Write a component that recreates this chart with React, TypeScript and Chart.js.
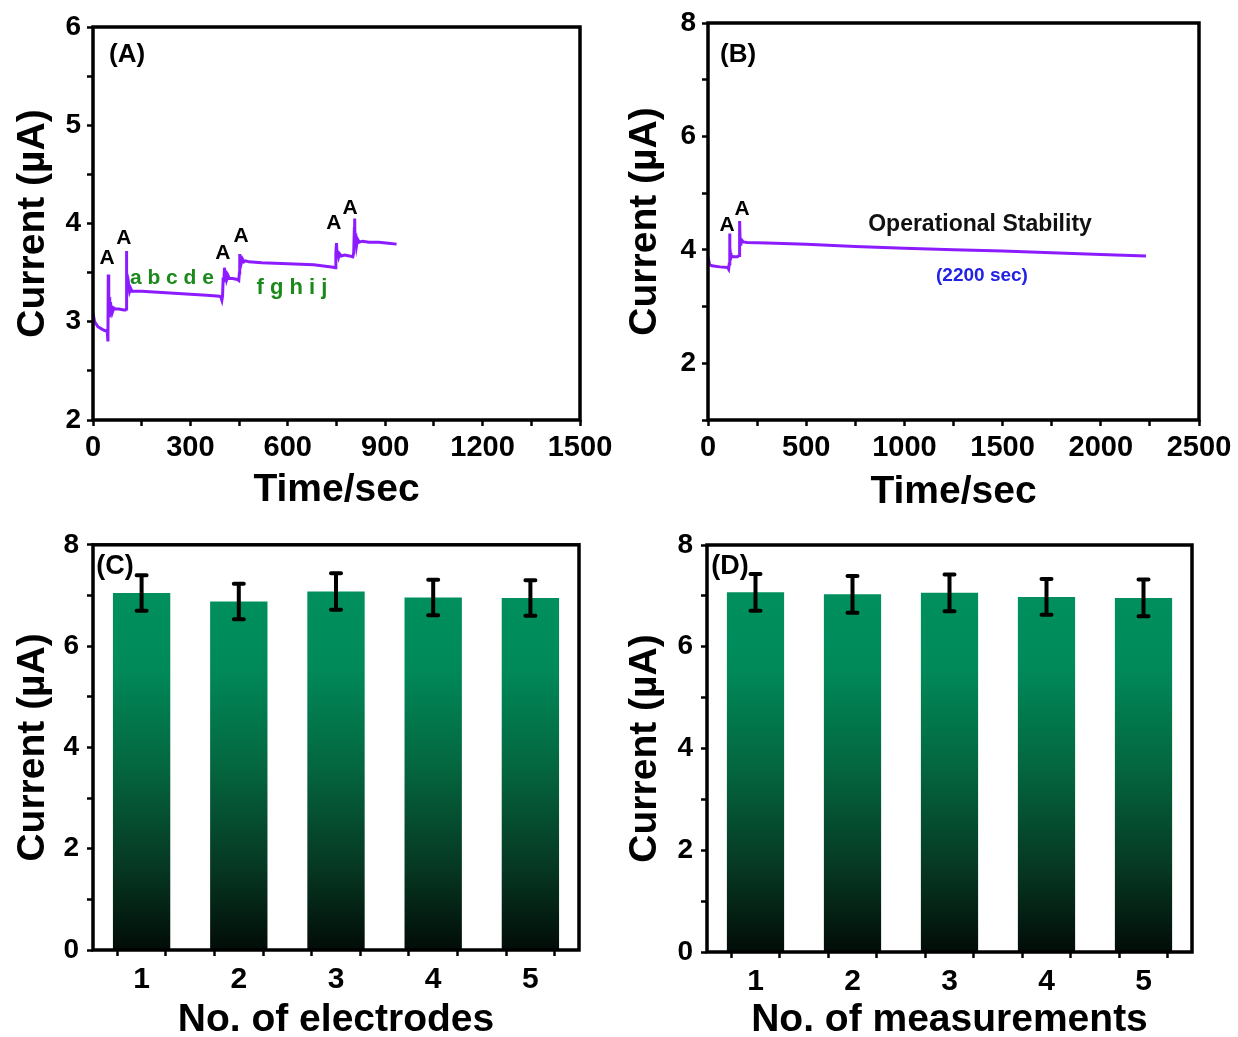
import React, { useEffect, useRef } from 'react';
import { Chart, registerables } from 'chart.js';

Chart.register(...registerables);

const FONT = '"Liberation Sans", Arial, Helvetica, sans-serif';

// ---------- Panel A: amperometric response ----------
const timeA = [0, 5, 15, 30, 44, 46, 47, 48, 49, 50, 51, 52, 54, 56, 58, 60, 64, 70, 80, 95, 100, 102, 103, 104, 105, 107, 110, 113, 116, 120, 130, 150, 200, 250, 300, 350, 390, 394, 397, 399, 401, 403, 405, 407, 409, 412, 416, 420, 430, 445, 449, 451, 452, 453, 455, 457, 460, 465, 470, 480, 520, 600, 680, 740, 746, 748, 750, 752, 754, 757, 760, 765, 775, 790, 800, 803, 805, 806, 807, 809, 812, 815, 820, 830, 850, 880, 910, 935];
const currentA = [3.09, 3.0, 2.95, 2.92, 2.9, 2.8, 3.48, 3.05, 3.3, 3.06, 3.25, 3.1, 3.2, 3.12, 3.16, 3.1, 3.14, 3.13, 3.13, 3.12, 3.12, 3.13, 3.72, 3.25, 3.45, 3.3, 3.38, 3.31, 3.34, 3.31, 3.31, 3.31, 3.3, 3.29, 3.28, 3.27, 3.26, 3.25, 3.22, 3.26, 3.45, 3.4, 3.55, 3.45, 3.52, 3.43, 3.47, 3.44, 3.44, 3.43, 3.42, 3.5, 3.69, 3.6, 3.66, 3.6, 3.64, 3.61, 3.62, 3.61, 3.6, 3.59, 3.58, 3.555, 3.55, 3.7, 3.8, 3.66, 3.72, 3.66, 3.69, 3.67, 3.68, 3.67, 3.66, 3.7, 3.95, 4.05, 3.8, 3.9, 3.78, 3.84, 3.81, 3.82, 3.81, 3.81, 3.8, 3.79];
const xLabelsA = [0, 300, 600, 900, 1200, 1500];
const yLabelsA = [2, 3, 4, 5, 6];
const notesA = [
  { text: '(A)', x: 105, y: 5.72, color: '#000', size: 26 },
  { text: 'A', x: 43, y: 3.65, color: '#000', size: 21 },
  { text: 'A', x: 95, y: 3.85, color: '#000', size: 21 },
  { text: 'A', x: 400, y: 3.7, color: '#000', size: 21 },
  { text: 'A', x: 456, y: 3.87, color: '#000', size: 21 },
  { text: 'A', x: 742, y: 4.0, color: '#000', size: 21 },
  { text: 'A', x: 792, y: 4.16, color: '#000', size: 21 },
  { text: 'a b c d e', x: 243, y: 3.44, color: '#1b8a1b', size: 21 },
  { text: 'f g h i j', x: 613, y: 3.34, color: '#1b8a1b', size: 22 },
];

// ---------- Panel B: operational stability ----------
const timeB = [0, 8, 20, 60, 100, 105, 108, 110, 112, 114, 117, 120, 130, 150, 158, 160, 162, 164, 167, 170, 175, 180, 200, 300, 500, 750, 1000, 1250, 1500, 1750, 2000, 2230];
const currentB = [3.88, 3.74, 3.72, 3.7, 3.69, 3.66, 3.75, 4.29, 3.85, 3.95, 3.86, 3.89, 3.88, 3.88, 3.9, 4.05, 4.51, 4.1, 4.2, 4.13, 4.16, 4.14, 4.13, 4.12, 4.1, 4.06, 4.03, 4.0, 3.98, 3.95, 3.92, 3.89];
const xLabelsB = [0, 500, 1000, 1500, 2000, 2500];
const yLabelsB = [2, 4, 6, 8];
const notesB = [
  { text: '(B)', x: 153, y: 7.44, color: '#000', size: 26 },
  { text: 'A', x: 97, y: 4.44, color: '#000', size: 21 },
  { text: 'A', x: 173, y: 4.72, color: '#000', size: 21 },
  { text: 'Operational Stability', x: 1385, y: 4.45, color: '#111', size: 23 },
  { text: '(2200 sec)', x: 1395, y: 3.54, color: '#2222e6', size: 19 },
];

// ---------- Panel C: reproducibility (electrodes) ----------
const electrodes = [1, 2, 3, 4, 5];
const electrodeCurrent = [7.05, 6.88, 7.08, 6.96, 6.95];
const electrodeError = [0.35, 0.35, 0.36, 0.35, 0.35];

// ---------- Panel D: repeatability (measurements) ----------
const measurements = [1, 2, 3, 4, 5];
const measurementCurrent = [7.07, 7.03, 7.06, 6.98, 6.96];
const measurementError = [0.36, 0.36, 0.36, 0.35, 0.36];

const xLabelsBar = [1, 2, 3, 4, 5];
const yLabelsBar = [0, 2, 4, 6, 8];

const has = (arr: number[], v: number) => arr.some((a) => Math.abs(a - v) < 1e-6);

const framePlugin = {
  id: 'frame',
  afterDraw(chart: any) {
    const { ctx, chartArea: a } = chart;
    ctx.save();
    ctx.lineWidth = 3.5;
    ctx.strokeStyle = '#000';
    ctx.strokeRect(a.left, a.top, a.right - a.left, a.bottom - a.top);
    ctx.restore();
  },
};

const notesPlugin = {
  id: 'notes',
  afterDatasetsDraw(chart: any, _args: any, opts: any) {
    const items = (opts && opts.items) || [];
    const { ctx } = chart;
    const xs = chart.scales.x;
    const ys = chart.scales.y;
    ctx.save();
    ctx.textAlign = 'center';
    ctx.textBaseline = 'middle';
    items.forEach((n: any) => {
      ctx.font = `bold ${n.size}px ${FONT}`;
      ctx.fillStyle = n.color;
      ctx.fillText(n.text, xs.getPixelForValue(n.x), ys.getPixelForValue(n.y));
    });
    ctx.restore();
  },
};

const errorPlugin = {
  id: 'errbars',
  afterDatasetsDraw(chart: any, _args: any, opts: any) {
    const errs: number[] = (opts && opts.errors) || [];
    const { ctx } = chart;
    const ys = chart.scales.y;
    const meta = chart.getDatasetMeta(0);
    const values = chart.data.datasets[0].data;
    ctx.save();
    ctx.strokeStyle = '#000';
    ctx.lineWidth = 4;
    ctx.lineCap = 'round';
    meta.data.forEach((bar: any, i: number) => {
      const v = values[i].y;
      const e = errs[i];
      const x = bar.x;
      const yt = ys.getPixelForValue(v + e);
      const yb = ys.getPixelForValue(v - e);
      ctx.beginPath();
      ctx.moveTo(x, yt);
      ctx.lineTo(x, yb);
      ctx.moveTo(x - 5, yt);
      ctx.lineTo(x + 5, yt);
      ctx.moveTo(x - 5, yb);
      ctx.lineTo(x + 5, yb);
      ctx.stroke();
    });
    ctx.restore();
  },
};

function axisCommon(labels: number[], size: number, pad: number) {
  return {
    ticks: {
      color: '#000',
      font: { family: FONT, size, weight: 'bold' },
      padding: pad,
      autoSkip: false,
      maxRotation: 0,
      minRotation: 0,
      callback: (v: any) => (has(labels, Number(v)) ? String(v) : ''),
    },
    grid: {
      display: true,
      drawOnChartArea: false,
      drawTicks: true,
      tickLength: 6,
      tickWidth: 2.5,
      color: '#000',
    },
    border: { display: false },
  };
}

function titleOpt(text: string, padding: any) {
  return {
    display: true,
    text,
    color: '#000',
    font: { family: FONT, size: 39, weight: 'bold', lineHeight: 1.2 },
    padding,
  };
}

type Geo = { w: number; h: number; left: number; top: number; right: number; bottom: number; yPad: number; xPad: number };

function lineConfig(
  geo: Geo,
  times: number[],
  vals: number[],
  xr: [number, number, number],
  yr: [number, number, number],
  xLabels: number[],
  yLabels: number[],
  notes: any[]
) {
  return {
    type: 'line',
    data: {
      datasets: [
        {
          data: times.map((t, i) => ({ x: t, y: vals[i] })),
          borderColor: '#8c1cff',
          borderWidth: 3,
          pointRadius: 0,
          tension: 0,
          fill: false,
        },
      ],
    },
    options: {
      responsive: false,
      animation: false,
      devicePixelRatio: 1,
      layout: { padding: { left: 0, top: geo.top, right: geo.w - geo.right, bottom: 0 } },
      plugins: {
        legend: { display: false },
        tooltip: { enabled: false },
        notes: { items: notes },
      },
      scales: {
        x: {
          type: 'linear',
          min: xr[0],
          max: xr[1],
          ...axisCommon(xLabels, 29, 5),
          ticks: { ...axisCommon(xLabels, 29, 5).ticks, stepSize: xr[2] },
          title: titleOpt('Time/sec', { top: 0, bottom: geo.xPad }),
          afterFit: (s: any) => {
            s.height = geo.h - geo.bottom;
          },
        },
        y: {
          type: 'linear',
          min: yr[0],
          max: yr[1],
          ...axisCommon(yLabels, 28, 6),
          ticks: { ...axisCommon(yLabels, 28, 6).ticks, stepSize: yr[2] },
          title: titleOpt('Current (µA)', { top: geo.yPad, bottom: 0 }),
          afterFit: (s: any) => {
            s.width = geo.left;
          },
        },
      },
    },
    plugins: [framePlugin, notesPlugin],
  };
}

function barConfig(geo: Geo, cats: number[], vals: number[], errs: number[], xTitle: string, note: any) {
  return {
    type: 'bar',
    data: {
      datasets: [
        {
          data: cats.map((c, i) => ({ x: c, y: vals[i] })),
          backgroundColor: (ctx: any) => {
            const ca = ctx.chart.chartArea;
            if (!ca) return '#008c5e';
            const g = ctx.chart.ctx.createLinearGradient(0, ca.top, 0, ca.bottom);
            g.addColorStop(0, '#00935f');
            g.addColorStop(0.3, '#008a5a');
            g.addColorStop(0.55, '#04663f');
            g.addColorStop(0.8, '#063722');
            g.addColorStop(1, '#020c07');
            return g;
          },
          borderWidth: 0,
          // the half-unit minor ticks halve the sample spacing used by the bar ruler
          barPercentage: 1.18,
          categoryPercentage: 1,
        },
      ],
    },
    options: {
      responsive: false,
      animation: false,
      devicePixelRatio: 1,
      layout: { padding: { left: 0, top: geo.top, right: geo.w - geo.right, bottom: 0 } },
      plugins: {
        legend: { display: false },
        tooltip: { enabled: false },
        notes: { items: [note] },
        errbars: { errors: errs },
      },
      scales: {
        x: {
          type: 'linear',
          min: 0.5,
          max: 5.5,
          offset: false,
          ...axisCommon(xLabelsBar, 30, 6),
          ticks: { ...axisCommon(xLabelsBar, 30, 6).ticks, stepSize: 0.5 },
          title: titleOpt(xTitle, { top: 0, bottom: geo.xPad }),
          afterFit: (s: any) => {
            s.height = geo.h - geo.bottom;
          },
        },
        y: {
          type: 'linear',
          min: 0,
          max: 8,
          ...axisCommon(yLabelsBar, 28, 8),
          ticks: { ...axisCommon(yLabelsBar, 28, 8).ticks, stepSize: 1 },
          title: titleOpt('Current (µA)', { top: geo.yPad, bottom: 0 }),
          afterFit: (s: any) => {
            s.width = geo.left;
          },
        },
      },
    },
    plugins: [framePlugin, notesPlugin, errorPlugin],
  };
}

function Panel({ x, y, geo, make }: { x: number; y: number; geo: Geo; make: () => any }) {
  const ref = useRef<HTMLCanvasElement | null>(null);
  useEffect(() => {
    if (!ref.current) return;
    const chart = new Chart(ref.current, make());
    return () => chart.destroy();
  }, []);
  return (
    <div style={{ position: 'absolute', left: x, top: y, width: geo.w, height: geo.h }}>
      <canvas ref={ref} width={geo.w} height={geo.h} style={{ display: 'block', width: geo.w, height: geo.h }} />
    </div>
  );
}

const geoA: Geo = { w: 619, h: 520, left: 93, top: 27, right: 580, bottom: 420, yPad: 10, xPad: 6.6 };
const geoB: Geo = { w: 619, h: 520, left: 89, top: 23, right: 580, bottom: 420, yPad: 3, xPad: 4.6 };
const geoC: Geo = { w: 619, h: 530, left: 93, top: 24, right: 579, bottom: 430, yPad: 10, xPad: 6.6 };
const geoD: Geo = { w: 619, h: 530, left: 88, top: 25, right: 573, bottom: 432, yPad: 3, xPad: 6.6 };

export default function App() {
  return (
    <div style={{ position: 'absolute', left: 0, top: 0, width: 1238, height: 1037, overflow: 'hidden', background: '#fff' }}>
      <Panel
        x={0}
        y={0}
        geo={geoA}
        make={() => lineConfig(geoA, timeA, currentA, [0, 1500, 150], [2, 6, 0.5], xLabelsA, yLabelsA, notesA)}
      />
      <Panel
        x={619}
        y={0}
        geo={geoB}
        make={() => lineConfig(geoB, timeB, currentB, [0, 2500, 250], [1, 8, 1], xLabelsB, yLabelsB, notesB)}
      />
      <Panel
        x={0}
        y={520}
        geo={geoC}
        make={() =>
          barConfig(geoC, electrodes, electrodeCurrent, electrodeError, 'No. of electrodes', {
            text: '(C)',
            x: 0.726,
            y: 7.57,
            color: '#000',
            size: 27,
          })
        }
      />
      <Panel
        x={619}
        y={520}
        geo={geoD}
        make={() =>
          barConfig(geoD, measurements, measurementCurrent, measurementError, 'No. of measurements', {
            text: '(D)',
            x: 0.737,
            y: 7.58,
            color: '#000',
            size: 27,
          })
        }
      />
    </div>
  );
}
